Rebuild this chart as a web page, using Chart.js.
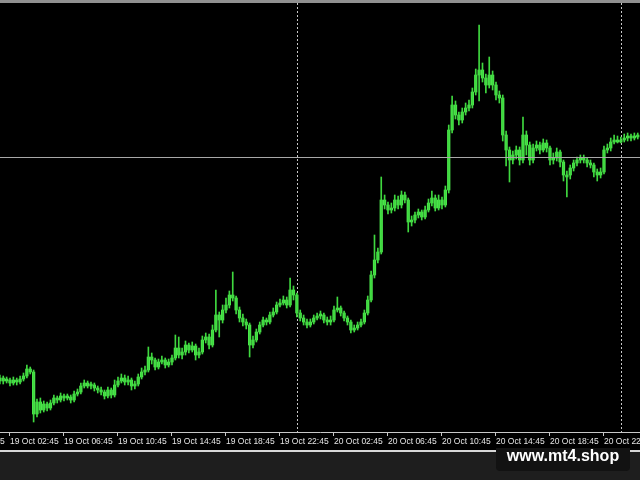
<!DOCTYPE html>
<html>
<head>
<meta charset="utf-8">
<script src="https://cdn.jsdelivr.net/npm/chart.js@4.4.0/dist/chart.umd.min.js"></script>
<style>
  html, body { margin:0; padding:0; background:#1e1e1e; width:640px; height:480px; overflow:hidden; }
  #marco { position:absolute; left:0; top:0; width:640px; height:447px; background:#000; border-top:3px solid #909090; border-bottom:2px solid #d8d8d8; }
  #marca { position:absolute; left:496px; top:448px; width:134px; height:23px; background:#121212; border-radius:0 0 4px 4px;
           color:#fff; font:bold 16px "Liberation Sans", Arial, sans-serif; text-align:center; line-height:16px; }
</style>
</head>
<body>
<div id="marco"><canvas id="myChart" width="640" height="447"></canvas></div>
<div id="marca">www.mt4.shop</div>
<script>
// M15 bars, 19 Oct 02:00 -> 21 Oct 01:15 (price in points)
var apertura = [
  50,53,50,51,48,51,49,52,55,62, 59,17,29,21,27,23,28,33,31,35,
  33,34,31,37,39,45,48,45,46,43, 41,39,35,41,36,46,50,53,49,51,
  45,47,54,59,61,74,71,64,69,71, 66,69,73,83,76,79,86,81,85,76,
  79,91,94,86,101,116,111,121,126,136, 133,121,113,109,106,86,91,99,106,111,
  109,116,119,126,128,131,126,141,136,118, 113,109,106,109,113,115,116,111,109,111,
  121,123,118,113,109,101,103,106,109,118, 131,156,171,179,231,226,221,223,231,226,
  236,231,209,211,216,219,214,221,228,233, 223,231,226,241,301,326,316,311,319,323,
  326,339,356,361,353,346,356,346,336,333, 296,281,271,276,281,271,296,286,271,283,
  286,281,288,283,271,273,279,269,256,256, 263,268,271,273,271,268,266,259,256,259,
  281,283,289,291,291,291,293,294,293,294
];
var maximo = [
  56,55,54,53,54,53,55,58,66,64, 61,32,33,30,29,31,36,35,38,37,
  37,36,40,42,48,51,50,49,48,45, 44,41,44,43,51,54,57,56,55,53,
  50,57,63,65,84,78,73,72,75,73, 72,76,96,94,83,90,88,89,87,83,
  95,98,97,106,141,119,126,133,140,159, 135,124,117,112,108,95,102,109,114,113,
  119,123,129,132,135,134,153,145,138,121, 116,112,112,116,118,120,118,114,115,125,
  134,125,120,115,111,106,109,112,121,135, 160,196,183,254,236,229,228,236,235,240,
  239,233,215,219,222,221,225,232,240,236, 236,234,245,306,335,330,319,323,328,331,
  343,362,406,368,357,374,360,349,340,336, 300,284,280,285,284,314,300,289,287,290,
  289,292,291,285,278,283,281,271,260,266, 271,274,276,276,273,271,268,262,263,285,
  287,293,296,295,294,297,298,297,298,298
];
var minimo = [
  47,47,48,45,46,46,47,50,53,57, 9,14,18,19,20,21,26,28,29,30,
  31,28,29,35,37,43,43,42,40,38, 36,32,33,33,34,44,48,46,46,41,
  42,45,52,56,59,67,61,62,67,63, 64,66,71,73,72,76,78,79,71,73,
  77,88,82,84,99,94,108,118,123,130, 117,109,105,102,74,83,89,97,104,106,
  107,114,117,124,126,123,124,131,114,110, 106,103,104,107,111,112,108,106,106,109,
  119,115,110,106,98,99,101,104,107,116, 129,153,168,177,222,217,218,220,222,223,
  228,199,205,208,213,211,212,219,225,220, 221,222,224,238,298,312,306,308,316,320,
  323,336,330,349,338,343,341,331,328,290, 265,249,267,272,266,268,276,266,268,280,
  277,279,279,266,267,270,264,250,234,252, 260,265,268,268,264,263,254,250,253,257,
  278,280,287,288,288,289,290,290,291,292
];
var cierre = [
  53,50,51,48,51,49,52,55,62,59, 17,29,21,27,23,28,33,31,35,33,
  34,31,37,39,45,48,45,46,43,41, 39,35,41,36,46,50,53,49,51,45,
  47,54,59,61,74,71,64,69,71,66, 69,73,83,76,79,86,81,85,76,79,
  91,94,86,101,116,111,121,126,136,133, 121,113,109,106,86,91,99,106,111,109,
  116,119,126,128,131,126,141,136,118,113, 109,106,109,113,115,116,111,109,111,121,
  123,118,113,109,101,103,106,109,118,131, 156,171,179,231,226,221,223,231,226,236,
  231,209,211,216,219,214,221,228,233,223, 231,226,241,301,326,316,311,319,323,326,
  339,356,361,353,346,356,346,336,333,296, 281,271,276,281,271,296,286,271,283,286,
  281,288,283,271,273,279,269,256,256,263, 268,271,273,271,268,266,259,256,259,281,
  283,289,291,291,291,293,294,293,294,295
];

// time axis labels (bar index -> text)
var posTicks = [-13, 3, 19, 35, 51, 67, 83, 99, 115, 131, 147, 163, 179];
var etiquetas = ["18 Oct 22:45", "19 Oct 02:45", "19 Oct 06:45", "19 Oct 10:45", "19 Oct 14:45", "19 Oct 18:45",
  "19 Oct 22:45", "20 Oct 02:45", "20 Oct 06:45", "20 Oct 10:45", "20 Oct 14:45", "20 Oct 18:45", "20 Oct 22:45"];
var separadores = [88, 184];   // day separators (00:00)
var nivel = 274;               // horizontal line

window.addEventListener('DOMContentLoaded', (event) => {
  chart();
});

const lineas = {
  id: 'lineas',
  beforeDatasetsDraw(chart) {
    const {ctx, chartArea, scales} = chart;
    ctx.save();
    ctx.strokeStyle = '#c8c8c8';
    ctx.lineWidth = 1;
    ctx.setLineDash([2, 2]);
    for (let s of separadores) {
      let x = Math.round(scales.x.getPixelForValue(s)) + 0.5;
      ctx.beginPath();
      ctx.moveTo(x, chartArea.top);
      ctx.lineTo(x, chartArea.bottom);
      ctx.stroke();
    }
    ctx.restore();
  },
  afterDatasetsDraw(chart) {
    const {ctx, chartArea, scales} = chart;
    let y = Math.round(scales.y.getPixelForValue(nivel)) + 0.5;
    ctx.save();
    ctx.strokeStyle = '#a8a8a8';
    ctx.lineWidth = 1;
    ctx.beginPath();
    ctx.moveTo(chartArea.left, y);
    ctx.lineTo(chartArea.right, y);
    ctx.stroke();
    ctx.restore();
  }
};

function chart() {
  var mechas = [];
  var cuerpos = [];
  for (let i = 0; i < cierre.length; i++) {
    mechas.push({x: i, y: [minimo[i], maximo[i]]});
    cuerpos.push({x: i, y: [apertura[i], cierre[i]]});
  }
  var ctx = document.getElementById("myChart");
  var myChart = new Chart(ctx, {
    type: "bar",
    data: {
      datasets: [
        {
          label: 'wick',
          data: mechas,
          backgroundColor: "#3fd83f",
          borderWidth: 0,
          barThickness: 1,
          grouped: false,
        },
        {
          label: 'body',
          data: cuerpos,
          backgroundColor: "#4ee84e",
          borderColor: "#2fb82f",
          borderWidth: 0,
          barThickness: 2.6,
          minBarLength: 2,
          grouped: false,
        },
      ],
    },
    options: {
      responsive: false,
      animation: false,
      devicePixelRatio: 1,
      layout: { padding: 0 },
      plugins: { legend: { display: false }, tooltip: { enabled: false } },
      scales: {
        x: {
          type: 'linear',
          offset: false,
          min: 0.04,
          max: 189.67,
          grid: { offset: false, drawOnChartArea: false, drawTicks: true, tickLength: 4, color: '#c8c8c8' },
          border: { display: true, color: '#c8c8c8' },
          ticks: {
            autoSkip: false,
            maxRotation: 0,
            align: 'start',
            padding: 1,
            color: '#e4e4e4',
            font: { family: 'Liberation Sans', size: 8.5 },
            callback: (v, i) => etiquetas[i]
          },
          afterBuildTicks: (s) => { s.ticks = posTicks.map(v => ({value: v})); },
          afterFit: (s) => { s.height = 18; s.paddingLeft = 0; s.paddingRight = 0; }
        },
        y: {
          display: false,
          min: -1,
          max: 428
        },
      },
    },
    plugins: [lineas]
  });
}
</script>
</body>
</html>
